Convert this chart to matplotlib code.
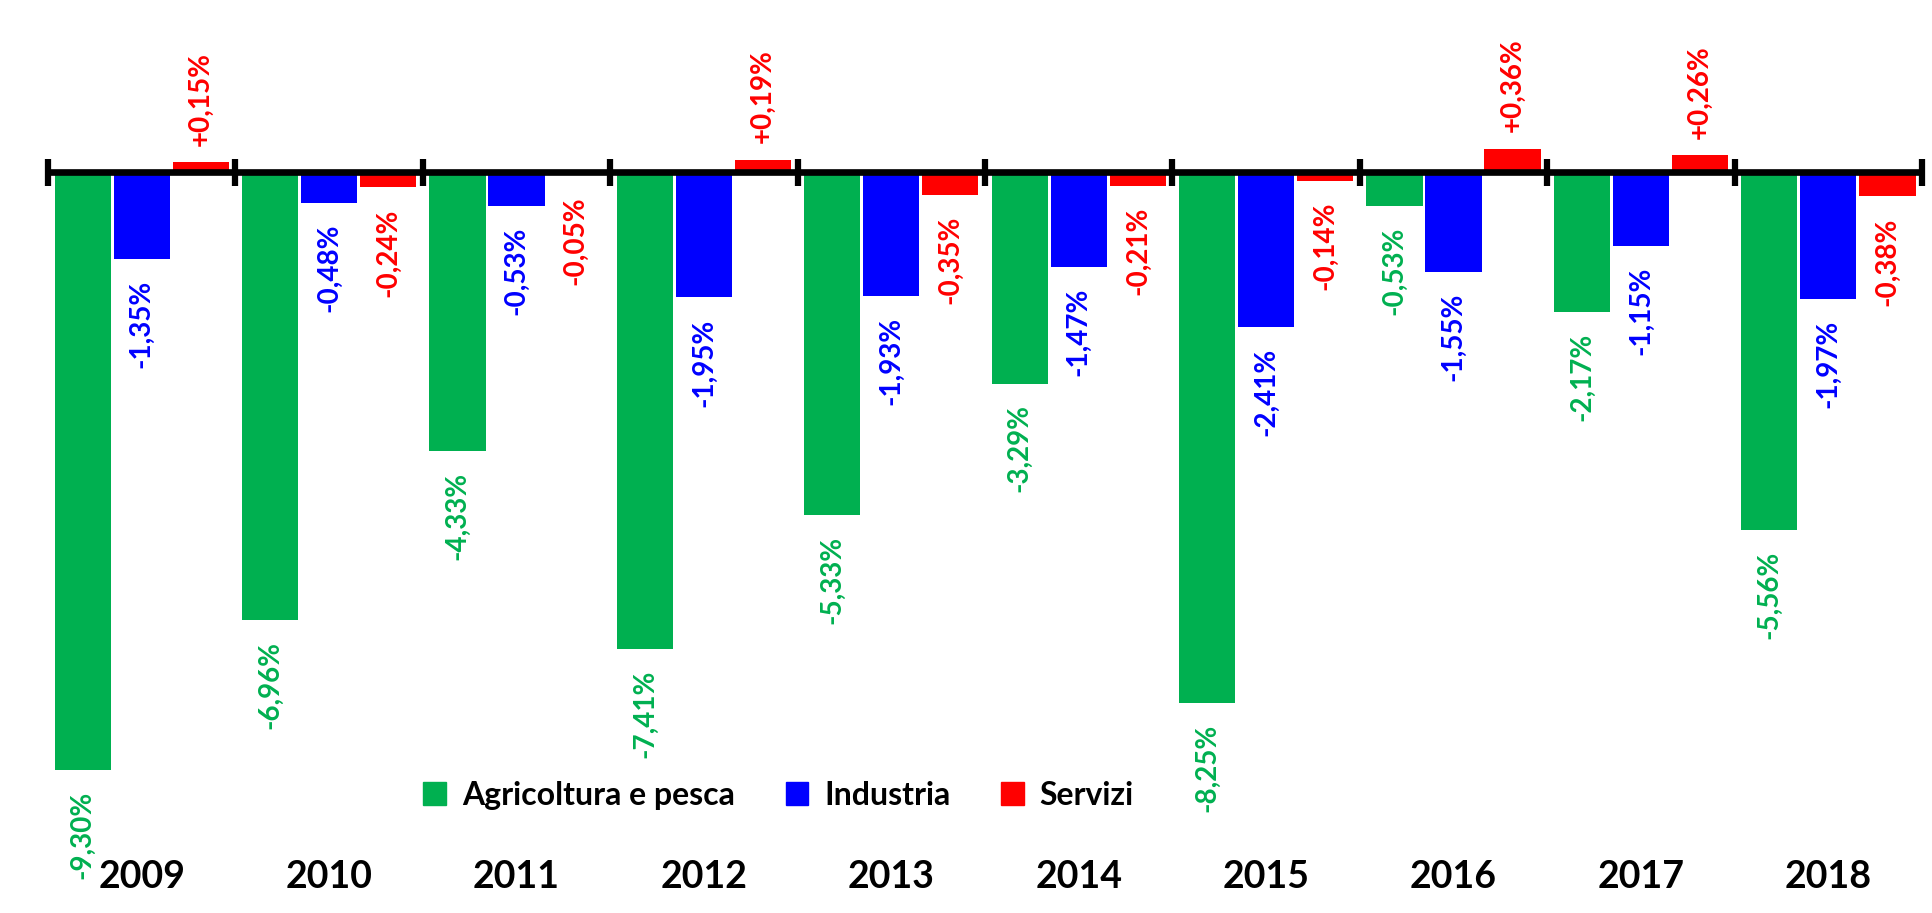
import numpy as np
import matplotlib
matplotlib.use('Agg')
from matplotlib import pyplot as plt
from matplotlib.patches import Patch

# data (variazione %)
years = ['2009', '2010', '2011', '2012', '2013', '2014', '2015', '2016', '2017', '2018']
agricoltura = [-9.30, -6.96, -4.33, -7.41, -5.33, -3.29, -8.25, -0.53, -2.17, -5.56]
industria = [-1.35, -0.48, -0.53, -1.95, -1.93, -1.47, -2.41, -1.55, -1.15, -1.97]
servizi = [0.15, -0.24, -0.05, 0.19, -0.35, -0.21, -0.14, 0.36, 0.26, -0.38]
series_names = ['Agricoltura e pesca', 'Industria', 'Servizi']
colors = ['#00B050', '#0000FF', '#FF0000']

plt.rcParams['font.family'] = ['Lato', 'DejaVu Sans']

fig = plt.figure(figsize=(19.32, 9.13), dpi=100)
ax = fig.add_axes([0, 0, 1, 1])
ax.set_xlim(-0.756, 9.553)
ax.set_ylim(-11.52, 2.675)
ax.axis('off')

x = np.arange(len(years))
w = 0.3
offsets = [-0.315, 0.0, 0.315]

for vals, off, col in zip([agricoltura, industria, servizi], offsets, colors):
    ax.bar(x + off, vals, width=w, color=col, zorder=2)
    for xi, v in zip(x + off, vals):
        txt = ('%+.2f%%' % v).replace('.', ',')
        if v >= 0:
            ax.annotate(txt, (xi, v), xytext=(0, 12), textcoords='offset points',
                        ha='center', va='bottom', rotation=90, color=col,
                        fontsize=20, fontweight='bold')
        else:
            ax.annotate(txt, (xi, v), xytext=(0, -15), textcoords='offset points',
                        ha='center', va='top', rotation=90, color=col,
                        fontsize=20, fontweight='bold')

# category axis line with tick marks between groups
ax.plot([-0.5, len(years) - 0.5], [0, 0], color='black', lw=4.8, zorder=3,
        solid_capstyle='butt')
ax.vlines(np.arange(len(years) + 1) - 0.5, -0.21, 0.21, color='black', lw=4.5, zorder=3)

for xi, yr in zip(x, years):
    ax.text(xi, -10.96, yr, ha='center', va='center', fontsize=27, fontweight='bold')

handles = [Patch(color=c, label=n) for c, n in zip(colors, series_names)]
fig.legend(handles=handles, loc='center', bbox_to_anchor=(0.403, 0.129), ncol=3,
           frameon=False, prop={'size': 23, 'weight': 'bold'},
           handlelength=0.7, handleheight=0.7, handletextpad=0.5, columnspacing=1.6)

fig.savefig('out.png', dpi=100)
